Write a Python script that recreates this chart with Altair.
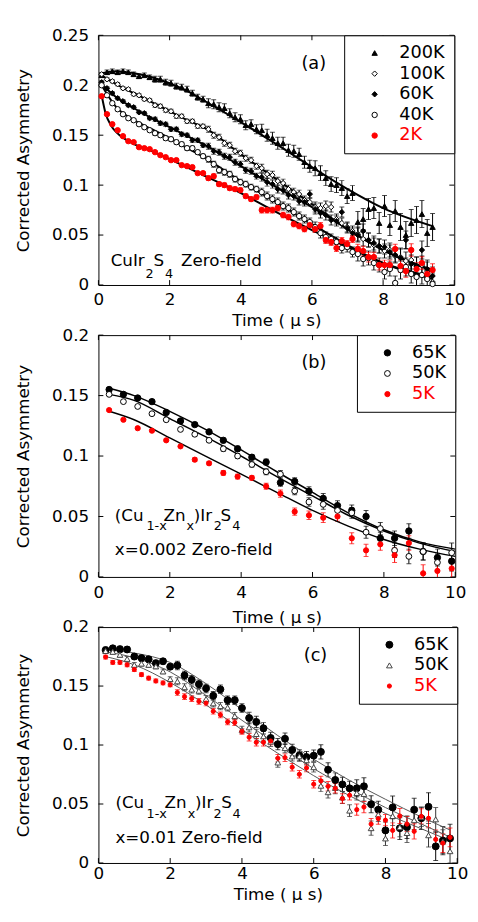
import altair as alt
import pandas as pd

FONT = "DejaVu Sans"
RED = "#ff0000"

# ---------------- panel (a) ----------------
t_a = [0.09, 0.24, 0.39, 0.54, 0.69, 0.84, 0.99, 1.14, 1.29, 1.44, 1.59, 1.74, 1.89, 2.04, 2.19, 2.34,
       2.49, 2.64, 2.79, 2.94, 3.09, 3.24, 3.39, 3.54, 3.69, 3.84, 3.99, 4.14, 4.29, 4.44, 4.59, 4.74,
       4.89, 5.04, 5.19, 5.34, 5.49, 5.64, 5.79, 5.94, 6.09, 6.24, 6.39, 6.54, 6.69, 6.84, 6.99, 7.14,
       7.29, 7.44, 7.59, 7.74, 7.89, 8.04, 8.19, 8.34, 8.49, 8.64, 8.79, 8.94, 9.09, 9.24, 9.39]
a_200K = [0.210, 0.213, 0.214, 0.213, 0.214, 0.213, 0.211, 0.209, 0.210, 0.208, 0.206, 0.206, 0.203, 0.202, 0.199, 0.198,
          0.196, 0.192, 0.188, 0.186, 0.182, 0.181, 0.178, 0.177, 0.172, 0.168, 0.166, 0.160, 0.161, 0.156, 0.155, 0.150,
          0.147, 0.142, 0.142, 0.135, 0.134, 0.131, 0.123, 0.119, 0.117, 0.112, 0.107, 0.101, 0.100, 0.097, 0.089, 0.092,
          0.063, 0.066, 0.076, 0.077, 0.062, 0.079, 0.060, 0.074, 0.058, 0.050, 0.062, 0.065, 0.071, 0.052, 0.058]
a_100K = [0.211, 0.206, 0.204, 0.201, 0.197, 0.196, 0.191, 0.190, 0.186, 0.185, 0.180, 0.179, 0.175, 0.174, 0.169, 0.169,
          0.164, 0.164, 0.159, 0.159, 0.156, 0.150, 0.148, 0.142, 0.140, 0.134, 0.132, 0.127, 0.125, 0.119, 0.117, 0.111,
          0.110, 0.104, 0.102, 0.096, 0.093, 0.091, 0.085, 0.083, 0.078, 0.077, 0.079, 0.078, 0.066, 0.062, 0.058, 0.054,
          0.051, 0.046, 0.045, 0.040, 0.039, 0.034, 0.035, 0.029, 0.028, 0.024, 0.025, 0.019, 0.020, 0.014, 0.003]
a_60K = [0.203, 0.197, 0.192, 0.187, 0.184, 0.180, 0.178, 0.173, 0.172, 0.167, 0.166, 0.162, 0.161, 0.156, 0.156, 0.151,
         0.150, 0.145, 0.145, 0.140, 0.139, 0.134, 0.133, 0.129, 0.128, 0.123, 0.121, 0.115, 0.114, 0.109, 0.108, 0.103,
         0.101, 0.096, 0.095, 0.090, 0.089, 0.084, 0.083, 0.091, 0.076, 0.072, 0.070, 0.065, 0.064, 0.073, 0.057, 0.052,
         0.050, 0.054, 0.045, 0.042, 0.039, 0.038, 0.033, 0.030, 0.027, 0.045, 0.021, 0.019, 0.035, 0.016, 0.009]
a_40K = [0.200, 0.190, 0.182, 0.176, 0.171, 0.167, 0.165, 0.161, 0.158, 0.155, 0.152, 0.150, 0.147, 0.146, 0.143, 0.141,
         0.137, 0.137, 0.133, 0.129, 0.126, 0.121, 0.115, 0.113, 0.111, 0.106, 0.103, 0.101, 0.098, 0.096, 0.093, 0.089,
         0.086, 0.083, 0.079, 0.077, 0.073, 0.069, 0.066, 0.063, 0.058, 0.052, 0.048, 0.046, 0.043, 0.037, 0.038, 0.033,
         0.031, 0.026, 0.027, 0.022, 0.020, 0.013, 0.016, 0.002, 0.015, 0.018, 0.011, 0.008, 0.010, 0.006, 0.001]
a_2K = [0.189, 0.171, 0.161, 0.155, 0.149, 0.144, 0.143, 0.138, 0.137, 0.136, 0.133, 0.130, 0.128, 0.125, 0.125, 0.120,
        0.119, 0.118, 0.112, 0.112, 0.107, 0.109, 0.101, 0.100, 0.097, 0.096, 0.095, 0.089, 0.086, 0.088, 0.075, 0.075,
        0.075, 0.077, 0.070, 0.068, 0.061, 0.059, 0.056, 0.060, 0.056, 0.059, 0.045, 0.043, 0.037, 0.044, 0.041, 0.046,
        0.036, 0.034, 0.028, 0.028, 0.020, 0.020, 0.020, 0.036, 0.019, 0.014, 0.035, 0.016, 0.022, 0.011, 0.015]
err_a = [0.0015] * 10 + [0.002] * 10 + [0.003] * 10 + [0.004] * 10 + [0.005] * 8 + [0.007] * 8 + [0.009] * 7
errfac_a = [1.5, 1.0, 1.0, 1.0, 0.7]
series_a = ["200K", "100K", "60K", "40K", "2K"]
shape_a = ["triangle-up", "diamond", "diamond", "circle", "circle"]
fill_a = ["black", "white", "black", "white", RED]
stroke_a = ["black", "black", "black", "black", RED]
size_a = [30, 30, 24, 30, 45]
ecol_a = ["black", "black", "black", "black", RED]

fit_t_a = [0.09, 0.5, 1, 1.5, 2, 2.5, 3, 4, 5, 6, 7, 8, 9.39]
fit_a_200K = [0.212, 0.214, 0.212, 0.208, 0.202, 0.194, 0.184, 0.163, 0.141, 0.118, 0.096, 0.077, 0.059]
fit_a_100K = [0.210, 0.201, 0.192, 0.183, 0.174, 0.165, 0.157, 0.131, 0.106, 0.081, 0.056, 0.035, 0.015]
fit_a_60K = [0.201, 0.188, 0.177, 0.167, 0.158, 0.149, 0.140, 0.119, 0.098, 0.078, 0.056, 0.035, 0.014]
fit_a_40K = [0.200, 0.178, 0.165, 0.156, 0.147, 0.137, 0.127, 0.104, 0.083, 0.061, 0.040, 0.022, 0.006]
fit_t_a2 = [0.09, 0.2, 0.35, 0.5, 0.75, 1, 1.5, 2, 3, 4, 5, 6, 7, 8, 9.39]
fit_a_2K = [0.190, 0.172, 0.160, 0.153, 0.146, 0.141, 0.134, 0.126, 0.109, 0.092, 0.073, 0.055, 0.038, 0.022, 0.008]

# ---------------- panel (b) ----------------
t_b = [0.3, 0.7, 1.1, 1.5, 1.9, 2.3, 2.7, 3.1, 3.5, 3.9, 4.3, 4.7, 5.1, 5.5, 5.9, 6.3, 6.7, 7.1, 7.5, 7.9,
       8.3, 8.7, 9.1, 9.5, 9.9]
b_65K = [0.155, 0.151, 0.148, 0.145, 0.136, 0.129, 0.126, 0.120, 0.113, 0.106, 0.099, 0.095, 0.078, 0.079, 0.071,
         0.065, 0.059, 0.055, 0.050, 0.032, 0.032, 0.038, 0.021, 0.016, 0.013]
b_50K = [0.151, 0.145, 0.141, 0.135, 0.130, 0.122, 0.118, 0.113, 0.106, 0.100, 0.093, 0.087, 0.085, 0.071, 0.062,
         0.060, 0.055, 0.053, 0.037, 0.040, 0.022, 0.017, 0.021, 0.012, 0.020]
b_5K = [0.138, 0.130, 0.123, 0.121, 0.113, 0.108, 0.097, 0.094, 0.086, 0.083, 0.082, 0.075, 0.069, 0.054, 0.051,
        0.049, 0.050, 0.032, 0.022, 0.027, 0.018, 0.028, 0.003, 0.005, 0.007]
err_b = [0.001, 0.001, 0.001, 0.001, 0.001, 0.001, 0.0015, 0.0015, 0.002, 0.002, 0.002, 0.0025, 0.003, 0.003,
         0.0035, 0.004, 0.004, 0.0045, 0.005, 0.005, 0.006, 0.006, 0.007, 0.007, 0.008]
errfac_b = [1.0, 1.0, 1.0]
series_b = ["65K", "50K", "5K"]
shape_b = ["circle", "circle", "circle"]
fill_b = ["black", "white", RED]
stroke_b = ["black", "black", RED]
size_b = [42, 28, 42]
ecol_b = ["black", "black", RED]
fit_t_b = [0.3, 1, 2, 3, 4, 5, 6, 7, 8, 9, 10]
fit_b_65K = [0.156, 0.150, 0.137, 0.122, 0.105, 0.087, 0.070, 0.053, 0.039, 0.029, 0.023]
fit_b_50K = [0.151, 0.146, 0.131, 0.116, 0.100, 0.083, 0.067, 0.051, 0.038, 0.028, 0.021]
fit_b_5K = [0.137, 0.130, 0.115, 0.100, 0.085, 0.070, 0.055, 0.042, 0.031, 0.023, 0.017]

# ---------------- panel (c) ----------------
t_c = [0.2, 0.4, 0.6, 0.8, 1.0, 1.2, 1.4, 1.6, 1.8, 2.0, 2.2, 2.4, 2.6, 2.8, 3.0, 3.2, 3.4, 3.6, 3.8, 4.0,
       4.2, 4.4, 4.6, 4.8, 5.0, 5.2, 5.4, 5.6, 5.8, 6.0, 6.2, 6.4, 6.6, 6.8, 7.0, 7.2, 7.4, 7.6, 7.8, 8.0,
       8.2, 8.4, 8.6, 8.8, 9.0, 9.2, 9.4, 9.6, 9.8]
c_65K = [0.1805, 0.182, 0.1813, 0.181, 0.175, 0.1737, 0.1727, 0.1694, 0.171, 0.1664,
         0.1675, 0.159, 0.1553, 0.1516, 0.148, 0.1418, 0.1472, 0.138, 0.138, 0.1313,
         0.1229, 0.1196, 0.1142, 0.106, 0.1007, 0.1053, 0.0958, 0.0912, 0.0898, 0.091,
         0.0942, 0.079, 0.0704, 0.0666, 0.0633, 0.0633, 0.065, 0.0498, 0.0452, 0.0276,
         0.0471, 0.0295, 0.0303, 0.0452, 0.0379, 0.0476, 0.0141, 0.019, 0.0208]
c_50K = [0.1797, 0.179, 0.1765, 0.173, 0.168, 0.169, 0.168, 0.1667, 0.1624, 0.1559,
         0.154, 0.149, 0.147, 0.146, 0.139, 0.1353, 0.133, 0.1318, 0.1245, 0.1129,
         0.115, 0.1093, 0.1074, 0.1028, 0.0852, 0.0974, 0.0904, 0.0904, 0.0871, 0.0812,
         0.0655, 0.060, 0.0636, 0.0555, 0.0444, 0.0593, 0.0585, 0.0295, 0.0411, 0.0208,
         0.0398, 0.0303, 0.0254, 0.0363, 0.039, 0.0235, 0.037, 0.0181, 0.010]
c_5K = [0.1746, 0.170, 0.170, 0.168, 0.164, 0.1597, 0.1567, 0.1543, 0.1526, 0.151,
        0.1445, 0.141, 0.1394, 0.137, 0.1356, 0.1286, 0.1256, 0.1196, 0.119, 0.1115,
        0.1066, 0.1023, 0.1023, 0.1034, 0.0888, 0.0893, 0.0812, 0.0752, 0.0806, 0.0668,
        0.0696, 0.065, 0.0633, 0.0547, 0.0574, 0.0452, 0.0474, 0.033, 0.0376, 0.0363,
        0.0276, 0.0398, 0.033, 0.0268, 0.0395, 0.0379, 0.020, 0.0168, 0.0217]
err_c = [0.002] * 10 + [0.003] * 10 + [0.004] * 10 + [0.005] * 5 + [0.006] * 5 + [0.008] * 5 + [0.010] * 4
errfac_c = [1.2, 1.0, 0.8]
series_c = ["65K", "50K", "5K"]
shape_c = ["circle", "triangle-up", "circle"]
fill_c = ["black", "white", RED]
stroke_c = ["black", "#444444", RED]
size_c = [50, 18, 50]
ecol_c = ["black", "#333333", RED]
fit_t_c = [0.2, 1, 2, 3, 4, 5, 6, 7, 8, 9, 9.8]
fit_c_65K = [0.181, 0.178, 0.170, 0.152, 0.130, 0.108, 0.088, 0.070, 0.054, 0.039, 0.028]
fit_c_50K = [0.179, 0.174, 0.162, 0.142, 0.121, 0.100, 0.080, 0.063, 0.047, 0.033, 0.022]
fit_c_5K = [0.175, 0.168, 0.153, 0.134, 0.113, 0.093, 0.074, 0.057, 0.042, 0.029, 0.019]

xticks = [0, 2, 4, 6, 8, 10]
yticks_a = [0, 0.05, 0.1, 0.15, 0.2, 0.25]
yticks_bc = [0, 0.05, 0.1, 0.15, 0.2]

# annotations: (x, y, text, fontsize) in data units
ann_a_x = [0.343, 1.32, 1.55, 1.87, 2.32]
ann_a_y = [0.0187, 0.0072, 0.0187, 0.0072, 0.0187]
ann_a_t = ["CuIr", "2", "S", "4", "Zero-field"]
ann_a_s = [17, 13, 17, 13, 17]

ann_b_x = [0.459, 1.346, 1.824, 2.47, 2.67, 3.23, 3.42, 3.75, 0.459]
ann_b_y = [0.0465, 0.0389, 0.0465, 0.0389, 0.0465, 0.0389, 0.0465, 0.0389, 0.0181]
ann_b_t = ["(Cu", "1-x", "Zn", "x", ")Ir", "2", "S", "4", "x=0.002 Zero-field"]
ann_b_s = [17, 13, 17, 13, 17, 13, 17, 13, 17]

ann_c_x = [0.474, 1.342, 1.844, 2.49, 2.69, 3.21, 3.42, 3.74, 0.474]
ann_c_y = [0.0466, 0.0379, 0.0466, 0.0379, 0.0466, 0.0379, 0.0466, 0.0379, 0.0168]
ann_c_t = ["(Cu", "1-x", "Zn", "x", ")Ir", "2", "S", "4", "x=0.01 Zero-field"]
ann_c_s = [17, 13, 17, 13, 17, 13, 17, 13, 17]

lab_pos = {"a": (6.05, 0.2207), "b": (6.04, 0.177), "c": (6.05, 0.1757)}


def make_panel(tl, vals, series, shapes, fills, strokes, sizes, ecols, err, errfac,
               fits, ydom, yticks, W, H, ann, label, lp, tp, line_w, line_c):
    rows = []
    for k, s in enumerate(series):
        for t, v, e in zip(tl, vals[k], err):
            ee = e * errfac[k]
            rows.append(dict(t=t, v=v, lo=v - ee, hi=v + ee, series=s, ecol=ecols[k], ord=k))
    df = pd.DataFrame(rows)
    frows = []
    for s, (ft, fv) in fits.items():
        for t, v in zip(ft, fv):
            frows.append(dict(t=t, v=v, series=s))
    fdf = pd.DataFrame(frows)
    adf = pd.DataFrame(dict(t=ann[0], v=ann[1], txt=ann[2], fs=ann[3]))
    ldf = pd.DataFrame(dict(t=[lab_pos[label][0]], v=[lab_pos[label][1]], txt=["(" + label + ")"]))
    xdf = pd.DataFrame(dict(tick=xticks))
    ydf = pd.DataFrame(dict(tick=yticks))

    xscale = alt.Scale(domain=[0, 10], nice=False, zero=False)
    yscale = alt.Scale(domain=ydom, nice=False, zero=False)
    xaxis = alt.Axis(title="Time ( μ s)", values=xticks, format="~r", ticks=False, domain=False, grid=False,
                     labelPadding=lp, titlePadding=tp, labelFlush=False, labelOverlap=False)
    yaxis = alt.Axis(title="Corrected Asymmetry", values=yticks, format="~r", ticks=False, domain=False,
                     grid=False, labelPadding=10, titlePadding=19, labelFlush=False, labelOverlap=False)

    def X(f):
        return alt.X(f + ":Q", scale=xscale, axis=xaxis)

    def Y(f):
        return alt.Y(f + ":Q", scale=yscale, axis=yaxis)

    red_expr = "datum.label == '2K' || datum.label == '5K' ? '%s' : 'black'" % RED
    leg = alt.Legend(title=None, orient="top-right", offset=0, strokeColor="black", fillColor="white",
                     padding=9, symbolOffset=13, labelOffset=16, labelFontSize=18, labelFont=FONT,
                     rowPadding=3, symbolStrokeWidth=1, symbolOpacity=1,
                     labelColor={"expr": red_expr})

    base = alt.Chart(df)
    ebar = base.mark_rule(strokeWidth=1, clip=True).encode(
        x=X("t"), y=Y("lo"), y2="hi", color=alt.Color("ecol:N", scale=None))
    cap_lo = base.mark_tick(thickness=1, size=5, orient="horizontal", clip=True).encode(
        x=X("t"), y=Y("lo"), color=alt.Color("ecol:N", scale=None))
    cap_hi = base.mark_tick(thickness=1, size=5, orient="horizontal", clip=True).encode(
        x=X("t"), y=Y("hi"), color=alt.Color("ecol:N", scale=None))
    lines = alt.Chart(fdf).mark_line(interpolate="monotone", strokeWidth=line_w, color=line_c).encode(
        x=X("t"), y=Y("v"), detail="series:N")
    pts = base.mark_point(filled=True, opacity=1, fillOpacity=1, strokeWidth=1).encode(
        x=X("t"), y=Y("v"),
        shape=alt.Shape("series:N", scale=alt.Scale(domain=series, range=shapes), legend=leg),
        fill=alt.Fill("series:N", scale=alt.Scale(domain=series, range=fills), legend=leg),
        stroke=alt.Stroke("series:N", scale=alt.Scale(domain=series, range=strokes), legend=leg),
        size=alt.Size("series:N", scale=alt.Scale(domain=series, range=sizes), legend=leg),
        order=alt.Order("ord:Q"),
    )
    txt = alt.Chart(adf).mark_text(align="left", baseline="alphabetic", font=FONT, color="black").encode(
        x=X("t"), y=Y("v"), text="txt:N", size=alt.Size("fs:Q", scale=None))
    lab = alt.Chart(ldf).mark_text(align="center", baseline="middle", font=FONT, fontSize=18,
                                   color="black").encode(x=X("t"), y=Y("v"), text="txt:N")
    tk = 5
    xt_b = alt.Chart(xdf).mark_rule(color="black", strokeWidth=1).encode(
        x=X("tick"), y=alt.value(H), y2=alt.value(H - tk))
    xt_t = alt.Chart(xdf).mark_rule(color="black", strokeWidth=1).encode(
        x=X("tick"), y=alt.value(0), y2=alt.value(tk))
    yt_l = alt.Chart(ydf).mark_rule(color="black", strokeWidth=1).encode(
        y=Y("tick"), x=alt.value(0), x2=alt.value(tk))
    yt_r = alt.Chart(ydf).mark_rule(color="black", strokeWidth=1).encode(
        y=Y("tick"), x=alt.value(W - tk), x2=alt.value(W))
    return alt.layer(xt_b, xt_t, yt_l, yt_r, ebar, cap_lo, cap_hi, lines, pts, txt, lab).properties(
        width=W, height=H)


pa = make_panel(t_a, [a_200K, a_100K, a_60K, a_40K, a_2K], series_a, shape_a, fill_a, stroke_a, size_a,
                ecol_a, err_a, errfac_a,
                {"200K": (fit_t_a, fit_a_200K), "100K": (fit_t_a, fit_a_100K), "60K": (fit_t_a, fit_a_60K),
                 "40K": (fit_t_a, fit_a_40K), "2K": (fit_t_a2, fit_a_2K)},
                [0, 0.25], yticks_a, 362, 254, (ann_a_x, ann_a_y, ann_a_t, ann_a_s), "a", 7, 5, 2, "black")
pb = make_panel(t_b, [b_65K, b_50K, b_5K], series_b, shape_b, fill_b, stroke_b, size_b, ecol_b, err_b, errfac_b,
                {"65K": (fit_t_b, fit_b_65K), "50K": (fit_t_b, fit_b_50K), "5K": (fit_t_b, fit_b_5K)},
                [0, 0.2], yticks_bc, 363, 246, (ann_b_x, ann_b_y, ann_b_t, ann_b_s), "b", 8, 9, 1.5, "black")
pc = make_panel(t_c, [c_65K, c_50K, c_5K], series_c, shape_c, fill_c, stroke_c, size_c, ecol_c, err_c, errfac_c,
                {"65K": (fit_t_c, fit_c_65K), "50K": (fit_t_c, fit_c_50K), "5K": (fit_t_c, fit_c_5K)},
                [0, 0.2], yticks_bc, 365, 240, (ann_c_x, ann_c_y, ann_c_t, ann_c_s), "c", 3, 5, 1, "#555555")

# fixed page geometry: plot (a) top-left at page (100, 28)
PAD_L, PAD_T = 92, 20
SVG_W, SVG_H = 470, 900

chart = alt.vconcat(pa, pb, pc, spacing=51, bounds="flush").resolve_scale(
    x="independent", y="independent", shape="independent", fill="independent",
    stroke="independent", size="independent").resolve_legend(
    shape="independent", fill="independent", stroke="independent", size="independent").properties(
    autosize=alt.AutoSizeParams(type="none"),
    padding={"left": PAD_L, "top": PAD_T, "right": SVG_W - PAD_L, "bottom": SVG_H - PAD_T}
).configure_view(stroke="black", strokeWidth=1).configure_axis(
    labelFont=FONT, titleFont=FONT, labelFontSize=17, titleFontSize=17, titleFontWeight="normal",
    labelColor="black", titleColor="black"
).configure_legend(labelFont=FONT)

chart.save("out.html", embed_options={"renderer": "svg", "actions": False})
